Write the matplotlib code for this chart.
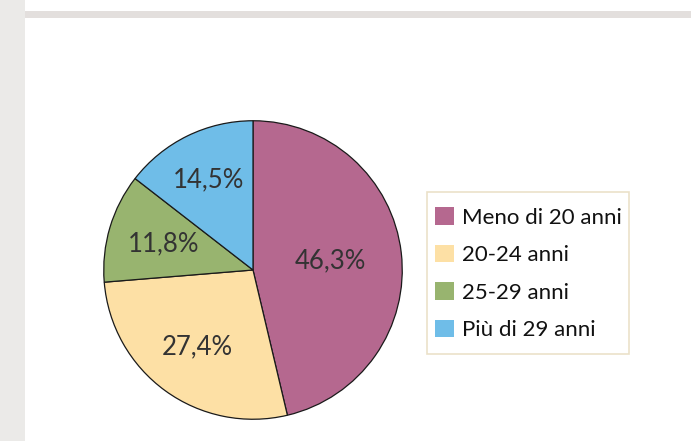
import matplotlib
import matplotlib.pyplot as plt
from matplotlib.patches import Rectangle, Patch
import numpy as np
matplotlib.use('Agg')

# age groups and shares (%)
categories = ["Meno di 20 anni", "20-24 anni", "25-29 anni", "Più di 29 anni"]
values = [46.3, 27.4, 11.8, 14.5]
colors = ['#b5688f', '#fde0a5', '#98b46f', '#6fbde8']
label_dist = [0.52, 0.63, 0.62, 0.67]

plt.rcParams['font.family'] = ['Lato', 'DejaVu Sans']

W, H = 691, 441
fig = plt.figure(figsize=(W / 100, H / 100), dpi=100)
fig.patch.set_facecolor('white')

# grey frame pieces
fig.patches.append(Rectangle((0, 0), 25 / W, 1, transform=fig.transFigure,
                             facecolor='#ebeae8', edgecolor='none', zorder=0))
fig.patches.append(Rectangle((25 / W, 1 - 18 / H), 1, 7 / H, transform=fig.transFigure,
                             facecolor='#e3dfdd', edgecolor='none', zorder=0))

cx, cy, r = 253, 441 - 270, 150
ax = fig.add_axes([(cx - r) / W, (cy - r) / H, 2 * r / W, 2 * r / H])
wedges, texts, autotexts = ax.pie(values, colors=colors, startangle=90, counterclock=False,
                                  radius=0.995,
                                  autopct=lambda p: ('%.1f%%' % p).replace('.', ','),
                                  wedgeprops=dict(edgecolor='#1a1a1a', linewidth=0.9),
                                  textprops=dict(fontsize=18.5, color='#333333'))
for w, t, d in zip(wedges, autotexts, label_dist):
    ang = np.deg2rad((w.theta1 + w.theta2) / 2)
    t.set_position((d * np.cos(ang), d * np.sin(ang)))
ax.set_xlim(-1, 1)
ax.set_ylim(-1, 1)
ax.set_aspect('equal')
ax.axis('off')

# legend box drawn by hand, legend itself without frame
fig.patches.append(Rectangle((427 / W, 1 - 354 / H), 202 / W, 162 / H, transform=fig.transFigure,
                             facecolor='white', edgecolor='#ebe1c9', linewidth=1.2, zorder=1))
handles = [Patch(facecolor=c, edgecolor='none') for c in colors]
leg = fig.legend(handles, categories, loc='upper left',
                 bbox_to_anchor=(435 / W, 1 - 207 / H), borderaxespad=0,
                 fontsize=16, handlelength=0.86, handleheight=0.86,
                 handletextpad=0.36, labelspacing=0.76, borderpad=0,
                 frameon=False)
for t in leg.get_texts():
    t.set_color('#111111')

plt.savefig('out.png', dpi=100, facecolor=fig.get_facecolor())
plt.close()
